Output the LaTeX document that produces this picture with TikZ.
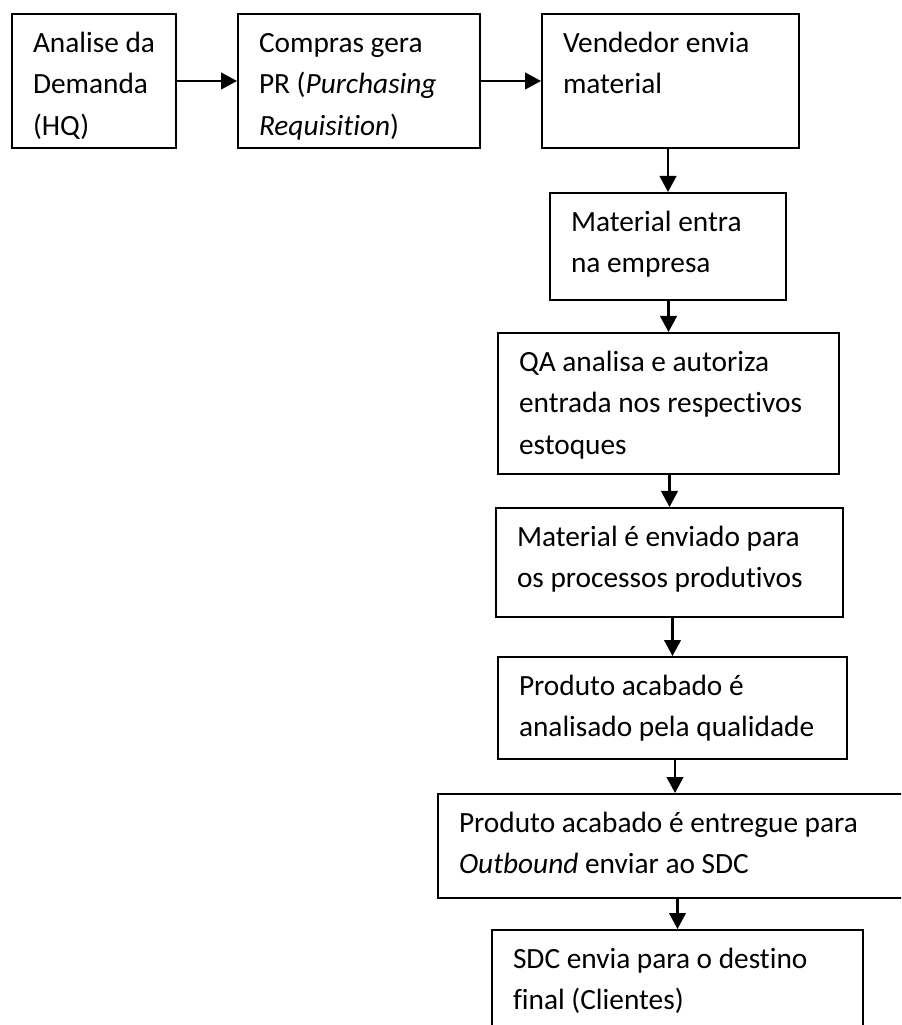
\documentclass[tikz,border=0pt]{standalone}
\usepackage{fontspec}
\setmainfont[Ligatures=NoCommon]{Carlito}
\usetikzlibrary{arrows.meta}
\newlength{\px}
\setlength{\px}{0.3pt}
% caixa de texto: largura, altura, texto
\newcommand{\caixa}[3]{\parbox[c][#2\px][t]{#1\px}{\vspace*{9\px}\leftskip=21\px\rightskip=0pt plus 1fil\strut #3}}

\begin{document}
\begin{tikzpicture}[x=0.3pt,y=-0.3pt,line join=miter,>={Triangle[length=4.8pt,width=5pt]},
    passo/.style={draw=black,line width=0.6pt,inner sep=0pt,anchor=north west,font=\fontsize{8.8pt}{12.45pt}\selectfont},
    seta/.style={->,line width=0.65pt,color=black}]
    \useasboundingbox (0,0) rectangle (901,1025);
    \clip (0,0) rectangle (901,1025);
    % linha de cima
    \node[passo] (demanda) at (11,13) {\caixa{164}{134}{Analise da\\Demanda\\(HQ)}};
    \node[passo] (compras) at (237,13) {\caixa{242}{134}{Compras gera\\PR (\textit{Purchasing}\\\textit{Requisition})}};
    \node[passo] (vendedor) at (541,13) {\caixa{257}{134}{Vendedor envia\\material}};
    % coluna da direita
    \node[passo] (entrada) at (549,192) {\caixa{236}{107}{Material entra\\na empresa}};
    \node[passo] (qa) at (497,332) {\caixa{341}{141}{QA analisa e autoriza\\entrada nos respectivos\\estoques}};
    \node[passo] (producao) at (495,507) {\caixa{347}{109}{Material é enviado para\\os processos produtivos}};
    \node[passo] (qualidade) at (497,656) {\caixa{349}{102}{Produto acabado é\\analisado pela qualidade}};
    \node[passo] (outbound) at (437,793) {\caixa{474}{104}{Produto acabado é entregue para\\\textit{Outbound} enviar ao SDC}};
    \node[passo] (sdc) at (491,929) {\caixa{371}{116}{SDC envia para o destino\\final (Clientes)}};
    % setas
    \draw[seta] (demanda.east) -- (compras.west);
    \draw[seta] (compras.east) -- (vendedor.west);
    \foreach \a/\b in {vendedor/entrada,entrada/qa,qa/producao,producao/qualidade,qualidade/outbound,outbound/sdc}
    \draw[seta] (\b.north |- \a.south) -- (\b.north);
\end{tikzpicture}
\end{document}
